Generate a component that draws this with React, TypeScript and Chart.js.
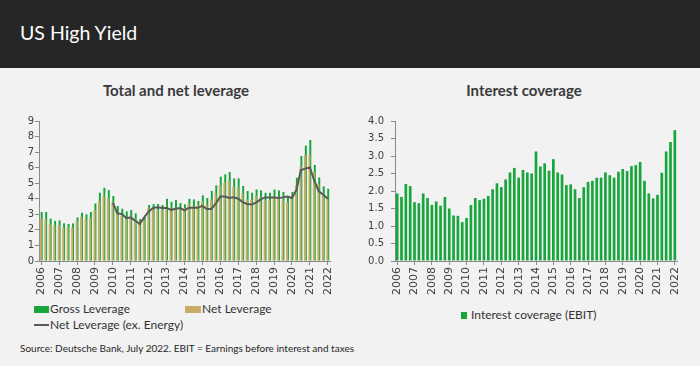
import React, { useEffect, useRef } from 'react';
import { Chart, registerables } from 'chart.js';

Chart.register(...registerables);

const yearLabels = ['2006', '2007', '2008', '2009', '2010', '2011', '2012', '2013', '2014', '2015', '2016', '2017', '2018', '2019', '2020', '2021', '2022'];
const quarterNames = ['Q1', 'Q2', 'Q3', 'Q4'];
const categories = yearLabels.flatMap((y) => quarterNames.map((q) => `${q} ${y}`)).slice(0, 65);

const grossLeverage = [
  3.15, 3.15, 2.72, 2.57, 2.61, 2.42, 2.38, 2.42, 2.8, 3.1, 3.0, 3.15,
  3.7, 4.39, 4.71, 4.56, 4.18, 3.54, 3.36, 3.19, 3.28, 3.06, 2.7, 2.8,
  3.6, 3.66, 3.66, 3.6, 4.0, 3.8, 3.92, 3.72, 3.64, 4.0, 3.96, 3.86,
  4.22, 4.05, 4.5, 4.86, 5.42, 5.57, 5.72, 5.31, 5.31, 4.82, 4.5, 4.39,
  4.6, 4.54, 4.39, 4.39, 4.6, 4.54, 4.44, 4.12, 4.44, 5.35, 6.75, 7.42,
  7.78, 6.18, 5.37, 4.8, 4.64,
];

const netLeverage = [
  2.72, 2.72, 2.38, 2.29, 2.31, 2.16, 2.16, 2.16, 2.55, 2.85, 2.66, 2.8,
  3.28, 3.83, 4.22, 4.05, 3.79, 3.15, 2.89, 2.8, 2.85, 2.74, 2.42, 2.64,
  3.4, 3.36, 3.28, 3.28, 3.49, 3.32, 3.4, 3.45, 3.4, 3.7, 3.49, 3.6,
  3.85, 3.62, 3.96, 4.35, 4.88, 5.04, 5.16, 4.78, 4.74, 4.35, 3.96, 3.92,
  4.22, 4.09, 3.88, 3.92, 4.18, 4.09, 3.96, 3.75, 4.05, 4.86, 6.1, 6.79,
  6.84, 5.72, 4.95, 4.35, 4.0,
];

const netLeverageExEnergy = [
  null, null, null, null, null, null, null, null, null, null, null, null, null, null, null, null,
  3.75, 3.06, 3.02, 2.76, 2.8, 2.6, 2.38, 2.8, 3.19, 3.41, 3.45, 3.41,
  3.41, 3.28, 3.36, 3.4, 3.26, 3.43, 3.43, 3.42, 3.54, 3.34, 3.34, 3.7,
  4.14, 4.14, 4.05, 4.09, 4.0, 3.79, 3.66, 3.64, 3.75, 3.96, 4.09, 4.09,
  4.09, 4.05, 4.09, 4.14, 4.05, 4.56, 5.85, 5.94, 6.02, 5.16, 4.48, 4.26,
  4.0,
];

const interestCoverage = [
  1.93, 1.83, 2.2, 2.14, 1.68, 1.65, 1.93, 1.8, 1.6, 1.7, 1.58, 1.83,
  1.5, 1.3, 1.29, 1.11, 1.23, 1.6, 1.8, 1.74, 1.78, 1.86, 2.05, 2.22,
  2.11, 2.33, 2.53, 2.66, 2.38, 2.6, 2.53, 2.5, 3.13, 2.7, 2.79, 2.58,
  2.91, 2.53, 2.47, 2.17, 2.19, 2.05, 1.8, 2.11, 2.26, 2.29, 2.38, 2.38,
  2.53, 2.45, 2.38, 2.55, 2.63, 2.57, 2.71, 2.74, 2.83, 2.29, 1.93, 1.79,
  1.89, 2.52, 3.13, 3.4, 3.74,
];

const GREEN = '#17a53c';
const TAN = '#c8ad69';
const LINE = '#595959';
const AXIS = '#8a8a8a';
const TICK_TEXT = '#404040';

function xScale(labelFont: number) {
  return {
    type: 'category' as const,
    offset: true,
    grid: {
      offset: false,
      drawOnChartArea: false,
      drawTicks: true,
      tickLength: 4,
      tickColor: (ctx: any) => (ctx.index % 4 === 0 ? AXIS : 'rgba(0,0,0,0)'),
    },
    border: { display: true, color: AXIS, width: 1 },
    ticks: {
      autoSkip: false,
      minRotation: 90,
      maxRotation: 90,
      padding: 2,
      color: TICK_TEXT,
      font: { family: 'DejaVu Sans', size: labelFont },
      callback: (_v: any, index: number) => (index % 4 === 0 ? yearLabels[index / 4] : ''),
    },
    afterFit: (s: any) => {
      s.height = 39;
    },
  };
}

function yScale(max: number, step: number, width: number, pad: number, decimals: number) {
  return {
    min: 0,
    max,
    grid: { drawOnChartArea: false, drawTicks: true, tickLength: 4, tickColor: AXIS },
    border: { display: true, color: AXIS, width: 1 },
    ticks: {
      stepSize: step,
      padding: pad,
      color: TICK_TEXT,
      font: { family: 'DejaVu Sans', size: 10 },
      callback: (v: any) => Number(v).toFixed(decimals),
    },
    afterFit: (s: any) => {
      s.width = width;
    },
  };
}

function LeverageChart() {
  const ref = useRef<HTMLCanvasElement>(null);
  useEffect(() => {
    const chart = new Chart(ref.current!, {
      type: 'bar',
      data: {
        labels: categories,
        datasets: [
          {
            type: 'line',
            label: 'Net Leverage (ex. Energy)',
            data: netLeverageExEnergy,
            borderColor: LINE,
            borderWidth: 2,
            pointRadius: 0,
            tension: 0,
            order: 0,
          } as any,
          {
            label: 'Net Leverage',
            data: netLeverage,
            backgroundColor: TAN,
            categoryPercentage: 0.4,
            barPercentage: 2.2,
            order: 1,
          },
          {
            label: 'Gross Leverage',
            data: grossLeverage,
            backgroundColor: GREEN,
            categoryPercentage: 0.4,
            barPercentage: 2.2,
            order: 2,
          },
        ],
      },
      options: {
        animation: false,
        responsive: false,
        devicePixelRatio: 1,
        layout: { padding: { top: 21, right: 15, left: 0, bottom: 0 } },
        plugins: { legend: { display: false }, tooltip: { enabled: false } },
        scales: {
          x: xScale(11) as any,
          y: yScale(9, 1, 39, 1, 0) as any,
        },
      },
    });
    return () => chart.destroy();
  }, []);
  return <canvas ref={ref} width={345} height={200} style={{ position: 'absolute', left: 0, top: 100 }} />;
}

function CoverageChart() {
  const ref = useRef<HTMLCanvasElement>(null);
  useEffect(() => {
    const chart = new Chart(ref.current!, {
      type: 'bar',
      data: {
        labels: categories,
        datasets: [
          {
            label: 'Interest coverage (EBIT)',
            data: interestCoverage,
            backgroundColor: GREEN,
            categoryPercentage: 1,
            barPercentage: 0.62,
          },
        ],
      },
      options: {
        animation: false,
        responsive: false,
        devicePixelRatio: 1,
        layout: { padding: { top: 21, right: 18, left: 0, bottom: 0 } },
        plugins: { legend: { display: false }, tooltip: { enabled: false } },
        scales: {
          x: xScale(11) as any,
          y: yScale(4, 0.5, 45, 7, 1) as any,
        },
      },
    });
    return () => chart.destroy();
  }, []);
  return <canvas ref={ref} width={345} height={200} style={{ position: 'absolute', left: 350, top: 100 }} />;
}

const textBase: React.CSSProperties = {
  position: 'absolute',
  fontFamily: 'Lato, "Open Sans", sans-serif',
  lineHeight: 1,
  whiteSpace: 'nowrap',
  color: '#333333',
};

export default function App() {
  useEffect(() => {
    document.body.style.margin = '0';
  }, []);
  return (
    <div style={{ position: 'fixed', left: 0, top: 0, width: 700, height: 366, background: '#f2f2f2', overflow: 'hidden' }}>
      <div style={{ position: 'absolute', left: 0, top: 0, width: 700, height: 68, background: '#262626' }} />
      <div style={{ ...textBase, left: 20, top: 22.5, fontSize: 19.5, color: '#ffffff' }}>US High Yield</div>

      <div style={{ ...textBase, left: 76, width: 200, top: 83, textAlign: 'center', fontSize: 15, fontWeight: 700, color: '#3a3a3a' }}>
        Total and net leverage
      </div>
      <div style={{ ...textBase, left: 424, width: 200, top: 83, textAlign: 'center', fontSize: 15, fontWeight: 700, color: '#3a3a3a' }}>
        Interest coverage
      </div>

      <LeverageChart />
      <CoverageChart />

      <div style={{ position: 'absolute', left: 34, top: 306, width: 15, height: 7, background: GREEN }} />
      <div style={{ ...textBase, left: 50, top: 303, fontSize: 12 }}>Gross Leverage</div>
      <div style={{ position: 'absolute', left: 185, top: 306, width: 16, height: 7, background: TAN }} />
      <div style={{ ...textBase, left: 202, top: 303, fontSize: 12 }}>Net Leverage</div>
      <div style={{ position: 'absolute', left: 34, top: 324, width: 15, height: 2, background: LINE }} />
      <div style={{ ...textBase, left: 50, top: 319, fontSize: 12 }}>Net Leverage (ex. Energy)</div>

      <div style={{ position: 'absolute', left: 461, top: 312, width: 6, height: 7, background: GREEN }} />
      <div style={{ ...textBase, left: 471, top: 309, fontSize: 12 }}>Interest coverage (EBIT)</div>

      <div style={{ ...textBase, left: 20, top: 343, fontSize: 10, color: '#262626' }}>
        Source: Deutsche Bank, July 2022. EBIT = Earnings before interest and taxes
      </div>
    </div>
  );
}
